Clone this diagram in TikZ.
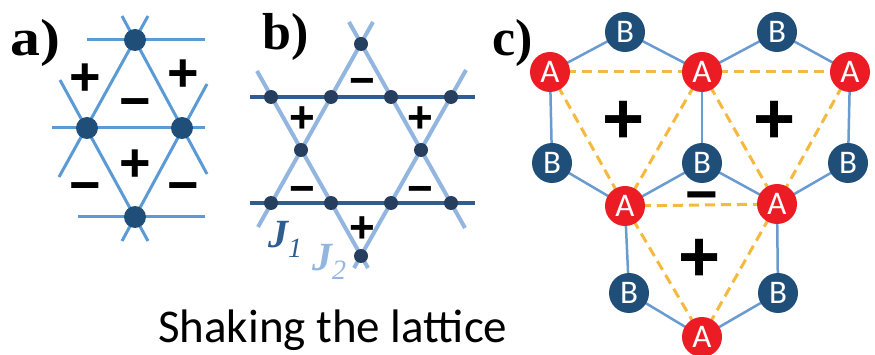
\documentclass[tikz,border=0pt]{standalone}
\usepackage{fontspec}
\setmainfont{Liberation Serif}
\newfontfamily\calib{Carlito}
\newfontfamily\lsans{Liberation Sans}
\usetikzlibrary{backgrounds,calc}
\definecolor{aline}{HTML}{5B9BD5}
\definecolor{adot}{HTML}{1F4E79}
\definecolor{jone}{HTML}{2F5D8F}
\definecolor{jtwo}{HTML}{93B6E0}
\definecolor{bdot}{HTML}{263F5E}
\definecolor{cred}{HTML}{EC1C24}
\definecolor{cnavy}{HTML}{1F4E79}
\definecolor{cedge}{HTML}{6A9BD0}
\definecolor{cdash}{HTML}{F5B93F}
\begin{document}
\begin{tikzpicture}[x=1pt,y=-1pt,
  dota/.style={circle,fill=adot,inner sep=0,minimum size=22pt},
  dotb/.style={circle,fill=bdot,inner sep=0,minimum size=14pt},
  anode/.style={circle,fill=cred,inner sep=0,minimum size=40pt,text=white,font=\calib\fontsize{33}{33}\selectfont},
  bnode/.style={circle,fill=cnavy,inner sep=0,minimum size=40pt,text=white,font=\calib\fontsize{33}{33}\selectfont},
  lbl/.style={inner sep=0,anchor=base west,font=\bfseries\fontsize{52}{52}\selectfont},
  sgna/.style={inner sep=0,text height=37.8pt,text depth=0pt,font=\lsans\bfseries\fontsize{54}{54}\selectfont},
  sgnb/.style={inner sep=0,text height=30.8pt,text depth=0pt,font=\lsans\bfseries\fontsize{44}{44}\selectfont},
  sgnc/.style={inner sep=0,text height=50.4pt,text depth=0pt,font=\lsans\bfseries\fontsize{72}{72}\selectfont},
  sgncm/.style={inner sep=0,anchor=base,font=\lsans\bfseries\fontsize{56}{56}\selectfont},
  lna/.style={draw=aline,line width=3pt},
  lnj1/.style={draw=jone,line width=4pt},
  lnj2/.style={draw=jtwo,line width=4pt},
  hex/.style={draw=cedge,line width=2.5pt},
  dsh/.style={draw=cdash,line width=3pt,dash pattern=on 10pt off 6pt},
  jlbl/.style={inner sep=0,anchor=base west,font=\bfseries\itshape\fontsize{40}{40}\selectfont}
]
\useasboundingbox (0,0) rectangle (875,355);
\begin{scope}[on background layer]
\fill[white] (0,0) rectangle (875,355);
\end{scope}

% ---------- panel a ----------
\node[lbl,xscale=1.15] (la) at (10,56) {a)};
\node[dota] (at) at (135,40) {};
\node[dota] (al) at (87,128) {};
\node[dota] (ar) at (182,128) {};
\node[dota] (ab) at (135,217) {};
\coordinate (ah1) at (87,40);  \coordinate (ah2) at (205,40);
\coordinate (ah3) at (52,128); \coordinate (ah4) at (205,128);
\coordinate (ah5) at (78,217); \coordinate (ah6) at (205,217);
\coordinate (ad1) at (59,177); \coordinate (ad2) at (148,16);
\coordinate (ad3) at (122,16); \coordinate (ad4) at (207,174);
\coordinate (ad5) at (60,80);  \coordinate (ad6) at (148,241);
\coordinate (ad7) at (122,241);\coordinate (ad8) at (207,84);
\begin{scope}[on background layer]
\draw[lna] (ah1) -- (ah2);
\draw[lna] (ah3) -- (ah4);
\draw[lna] (ah5) -- (ah6);
\draw[lna] (ad1) -- (ad2);
\draw[lna] (ad3) -- (ad4);
\draw[lna] (ad5) -- (ad6);
\draw[lna] (ad7) -- (ad8);
\end{scope}
\node[sgna] (sa1) at (85,77) {+};
\node[sgna] (sa2) at (183,73) {+};
\node[sgna] (sa3) at (135,101) {−};
\node[sgna] (sa4) at (135,163) {+};
\node[sgna] (sa5) at (85,185) {−};
\node[sgna] (sa6) at (183,185) {−};

% ---------- panel b ----------
\node[lbl] (lb) at (262,50) {b)};
\node[dotb] (bt) at (361,44) {};
\node[dotb] (bu1) at (271,97) {};
\node[dotb] (bu2) at (331,97) {};
\node[dotb] (bu3) at (391,97) {};
\node[dotb] (bu4) at (451,97) {};
\node[dotb] (bm1) at (301,150) {};
\node[dotb] (bm2) at (421,150) {};
\node[dotb] (bl1) at (271,203) {};
\node[dotb] (bl2) at (331,203) {};
\node[dotb] (bl3) at (391,203) {};
\node[dotb] (bl4) at (451,203) {};
\node[dotb] (bb) at (361,256) {};
\coordinate (bh1) at (250,97);  \coordinate (bh2) at (475,97);
\coordinate (bh3) at (250,203); \coordinate (bh4) at (475,203);
\coordinate (bd1) at (257,71);  \coordinate (bd2) at (368,268);
\coordinate (bd3) at (354,268); \coordinate (bd4) at (466,70);
\coordinate (bd5) at (258,227); \coordinate (bd6) at (373,22);
\coordinate (bd7) at (349,22);  \coordinate (bd8) at (465,228);
\begin{scope}[on background layer]
\draw[lnj2] (bd1) -- (bd2);
\draw[lnj2] (bd3) -- (bd4);
\draw[lnj2] (bd5) -- (bd6);
\draw[lnj2] (bd7) -- (bd8);
\draw[lnj1] (bh1) -- (bh2);
\draw[lnj1] (bh3) -- (bh4);
\end{scope}
\node[sgnb] (sb1) at (362,80) {−};
\node[sgnb] (sb2) at (302,117) {+};
\node[sgnb] (sb3) at (420,117) {+};
\node[sgnb] (sb4) at (302,188) {−};
\node[sgnb] (sb5) at (420,188) {−};
\node[sgnb] (sb6) at (362,227) {+};
\node[jlbl,text=jone] (j1) at (268,248) {J\textsubscript{\mdseries 1}};
\node[jlbl,text=jtwo] (j2) at (312,270) {J\textsubscript{\mdseries 2}};

% ---------- panel c ----------
\node[lbl] (lc) at (492,56) {c)};
\node[anode] (A1) at (550,72) {A};
\node[anode] (A2) at (702,72) {A};
\node[anode] (A3) at (850,72) {A};
\node[anode] (A4) at (625,206) {A};
\node[anode] (A5) at (777,204) {A};
\node[anode] (A6) at (702,337) {A};
\node[bnode] (B1) at (625,32) {B};
\node[bnode] (B2) at (777,32) {B};
\node[bnode] (B3) at (552,163) {B};
\node[bnode] (B4) at (702,163) {B};
\node[bnode] (B5) at (848,163) {B};
\node[bnode] (B6) at (629,293) {B};
\node[bnode] (B7) at (778,293) {B};
\begin{scope}[on background layer]
\draw[hex] (A1.center) -- (B1.center) -- (A2.center) -- (B2.center) -- (A3.center);
\draw[hex] (A1.center) -- (B3.center) -- (A4.center) -- (B4.center) -- (A5.center) -- (B5.center) -- (A3.center);
\draw[hex] (A2.center) -- (B4.center);
\draw[hex] (A4.center) -- (B6.center) -- (A6.center) -- (B7.center) -- (A5.center);
\draw[dsh] (A1.center) -- (A2.center);
\draw[dsh] (A2.center) -- (A3.center);
\draw[dsh] (A1.center) -- (A4.center);
\draw[dsh] (A2.center) -- (A4.center);
\draw[dsh] (A2.center) -- (A5.center);
\draw[dsh] (A3.center) -- (A5.center);
\draw[dsh] (A4.center) -- (A5.center);
\draw[dsh] (A4.center) -- (A6.center);
\draw[dsh] (A5.center) -- (A6.center);
\end{scope}
\node[sgnc] (sc1) at (624,118) {+};
\node[sgnc] (sc2) at (775,118) {+};
\node[sgncm] (sc3) at (702,214) {−};
\node[sgnc] (sc4) at (700,256) {+};

% ---------- caption ----------
\node[inner sep=0,anchor=base west,font=\calib\fontsize{47}{47}\selectfont] (cap) at (158,342) {Shaking the lattice};
\end{tikzpicture}
\end{document}
